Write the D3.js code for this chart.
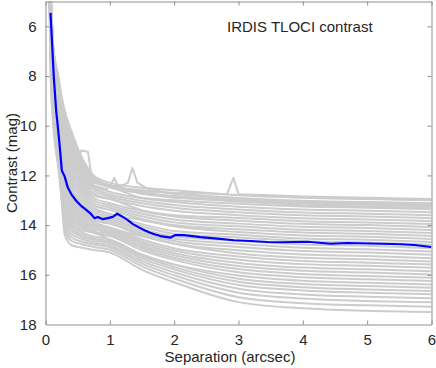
<!DOCTYPE html>
<html>
<head>
<meta charset="utf-8">
<script src="https://cdn.jsdelivr.net/npm/d3@7"></script>
<style>
  html, body { margin: 0; padding: 0; background: #fff; }
  text { font-family: "Liberation Sans", Arial, Helvetica, sans-serif; fill: #262626; }
</style>
</head>
<body>
<svg id="chart" width="436" height="368"></svg>
<script>
// ---------- data ----------
const xTicks = [0, 1, 2, 3, 4, 5, 6];
const yTicks = [6, 8, 10, 12, 14, 16, 18];
const titleText = "IRDIS TLOCI contrast";
const xLabel = "Separation (arcsec)";
const yLabel = "Contrast (mag)";

// separations (arcsec) at which the individual grey curves are sampled
const sepAnchors = [0.06, 0.08, 0.12, 0.16, 0.2, 0.25, 0.3, 0.4, 0.55, 0.75, 1.0, 1.5, 2, 3, 4, 5, 6];

// individual contrast curves (mag)
const grayCurves = [
  [4.0,4.6,6.8,7.5,8.0,8.8,9.4,10.2,11.2,12.0,12.3,12.5,12.6,12.8,12.9,12.95,13.0],
  [4.01,4.65,6.86,7.61,8.15,8.98,9.57,10.36,11.33,12.1,12.39,12.6,12.72,12.91,13.02,13.07,13.12],
  [4.03,4.7,6.92,7.72,8.3,9.15,9.74,10.53,11.46,12.2,12.48,12.71,12.83,13.03,13.13,13.18,13.24],
  [4.04,4.76,6.98,7.83,8.45,9.33,9.91,10.69,11.59,12.25,12.45,12.9,13.0,13.14,13.25,13.3,13.36],
  [4.05,4.81,7.03,7.94,8.6,9.5,10.08,10.85,11.72,12.4,12.66,12.92,13.07,13.26,13.37,13.42,13.48],
  [4.07,4.86,7.09,8.05,8.75,9.68,10.25,11.01,11.85,12.5,12.76,13.02,13.19,13.37,13.49,13.54,13.6],
  [4.08,4.91,7.15,8.16,8.9,9.85,10.41,11.18,11.98,12.6,12.85,13.12,13.3,13.48,13.6,13.65,13.72],
  [4.09,4.96,7.21,8.27,9.05,10.03,10.58,11.34,12.11,12.71,12.94,13.23,13.42,13.6,13.72,13.77,13.84],
  [4.1,5.02,7.27,8.38,9.2,10.2,10.75,11.5,12.24,12.81,12.95,13.4,13.6,13.71,13.84,13.89,13.96],
  [4.12,5.07,7.33,8.49,9.35,10.38,10.92,11.66,12.37,12.91,13.12,13.44,13.65,13.82,13.95,14.0,14.08],
  [4.13,5.12,7.39,8.6,9.5,10.56,11.09,11.83,12.5,13.01,13.21,13.54,13.77,13.94,14.07,14.12,14.2],
  [4.14,5.17,7.44,8.72,9.64,10.73,11.26,11.99,12.63,13.11,13.3,13.64,13.89,14.05,14.19,14.24,14.32],
  [4.16,5.22,7.5,8.83,9.79,10.91,11.43,12.15,12.76,13.21,13.39,13.75,14.0,14.17,14.3,14.35,14.44],
  [4.17,5.28,7.56,8.94,9.94,11.08,11.6,12.31,12.89,13.31,13.55,13.8,14.05,14.28,14.42,14.47,14.56],
  [4.18,5.33,7.62,9.05,10.09,11.26,11.77,12.48,13.02,13.41,13.57,13.96,14.24,14.39,14.54,14.59,14.68],
  [4.19,5.38,7.67,9.15,10.23,11.42,11.92,12.63,13.14,13.5,13.66,14.05,14.35,14.5,14.65,14.7,14.79],
  [4.21,5.48,7.77,9.25,10.34,11.55,12.07,12.76,13.25,13.59,13.74,14.16,14.45,14.63,14.78,14.83,14.93],
  [4.22,5.61,7.88,9.34,10.41,11.62,12.19,12.87,13.34,13.67,13.81,14.24,14.55,14.75,14.91,14.97,15.06],
  [4.24,5.74,8.0,9.43,10.48,11.7,12.31,12.97,13.42,13.74,13.88,14.33,14.64,14.88,15.04,15.1,15.19],
  [4.25,5.87,8.11,9.52,10.55,11.77,12.43,13.08,13.51,13.81,13.95,14.41,14.74,15.01,15.18,15.24,15.33],
  [4.27,6.0,8.23,9.61,10.62,11.85,12.55,13.18,13.59,13.88,14.1,14.45,14.75,15.14,15.31,15.37,15.46],
  [4.28,6.13,8.34,9.7,10.69,11.92,12.67,13.29,13.68,13.96,14.09,14.58,14.93,15.26,15.44,15.51,15.59],
  [4.3,6.26,8.46,9.79,10.76,12.0,12.79,13.39,13.76,14.03,14.16,14.67,15.02,15.39,15.57,15.64,15.72],
  [4.31,6.39,8.57,9.88,10.83,12.07,12.91,13.5,13.85,14.1,14.23,14.75,15.12,15.52,15.71,15.78,15.86],
  [4.33,6.52,8.69,9.97,10.9,12.15,13.03,13.6,13.93,14.17,14.3,14.84,15.21,15.65,15.84,15.91,15.99],
  [4.34,6.65,8.8,10.06,10.97,12.22,13.15,13.71,14.02,14.25,14.37,14.92,15.31,15.77,15.97,16.05,16.12],
  [4.36,6.78,8.92,10.15,11.04,12.3,13.27,13.81,14.1,14.32,14.44,15.01,15.4,15.9,16.1,16.18,16.25],
  [4.37,6.91,9.03,10.24,11.11,12.37,13.39,13.92,14.19,14.3,14.6,15.22,15.58,16.03,16.24,16.32,16.39],
  [4.39,7.04,9.15,10.33,11.18,12.45,13.51,14.02,14.27,14.46,14.58,15.18,15.59,16.16,16.37,16.45,16.52],
  [4.4,7.17,9.26,10.42,11.25,12.52,13.63,14.13,14.36,14.54,14.65,15.26,15.69,16.28,16.5,16.59,16.65],
  [4.42,7.3,9.38,10.51,11.32,12.6,13.75,14.23,14.44,14.61,14.72,15.35,15.78,16.41,16.63,16.72,16.78],
  [4.44,7.45,9.52,10.62,11.41,12.69,13.9,14.36,14.54,14.7,14.81,15.45,15.9,16.56,16.79,16.88,16.94],
  [4.46,7.61,9.66,10.73,11.49,12.78,14.04,14.49,14.65,14.78,14.89,15.55,16.02,16.72,16.95,17.05,17.1],
  [4.48,7.79,9.82,10.86,11.59,12.88,14.21,14.63,14.76,14.88,14.99,15.66,16.15,16.9,17.14,17.23,17.29],
  [4.5,8.0,10.0,11.0,11.7,13.0,14.4,14.8,14.9,15.0,15.1,15.8,16.3,17.1,17.35,17.45,17.5]
];

// curves with local bumps (own sampling)
const bumpA_sep = [0.06,0.08,0.12,0.16,0.2,0.25,0.3,0.4,0.48,0.5,0.555,0.66,0.71,0.8,1.0,1.5,2,3,4,5,6];
const bumpA_mag = [4.0,4.7,6.9,7.7,8.3,9.2,9.9,10.8,11.4,11.5,11.0,11.05,11.95,12.25,12.45,12.7,12.85,13.0,13.1,13.15,13.2];
const bumpB_sep = [0.06,0.08,0.12,0.16,0.2,0.25,0.3,0.4,0.55,0.75,1.0,1.2,1.28,1.35,1.43,1.6,2,3,4,5,6];
const bumpB_mag = [4.05,4.8,7.0,7.9,8.55,9.45,10.0,10.8,11.7,12.3,12.45,12.4,12.3,11.7,12.3,12.55,12.75,12.95,13.05,13.1,13.15];
const bumpC_sep = [0.06,0.08,0.12,0.16,0.2,0.25,0.3,0.4,0.55,0.75,0.95,1.02,1.07,1.12,1.3,1.5,2,3,4,5,6];
const bumpC_mag = [4.1,4.9,7.1,8.1,8.8,9.7,10.3,11.1,11.9,12.4,12.55,12.35,12.1,12.4,12.6,12.75,12.9,13.05,13.2,13.25,13.3];
const bumpD_sep = [0.06,0.08,0.12,0.16,0.2,0.25,0.3,0.4,0.55,0.75,1.0,1.5,2,2.5,2.82,2.92,3.0,3.5,4,5,6];
const bumpD_mag = [4.05,4.75,6.95,7.8,8.4,9.3,9.85,10.65,11.55,12.2,12.45,12.65,12.7,12.73,12.76,12.1,12.76,12.8,12.85,12.9,12.95];

// median curve (blue)
const medianSep = [0.078,0.129,0.166,0.19,0.218,0.254,0.295,0.347,0.40,0.477,0.555,0.633,0.71,0.762,0.813,0.89,0.969,1.047,1.115,1.177,1.28,1.358,1.46,1.54,1.617,1.695,1.788,1.944,2.02,2.15,2.41,2.67,2.93,3.19,3.45,3.65,4.07,4.43,4.69,5.21,5.52,5.73,6.0];
const medianMag = [5.46,8.05,9.40,10.0,10.74,11.81,12.02,12.49,12.75,13.02,13.23,13.39,13.56,13.72,13.67,13.76,13.72,13.67,13.54,13.63,13.80,13.96,14.10,14.21,14.30,14.37,14.44,14.50,14.40,14.40,14.48,14.54,14.61,14.64,14.68,14.69,14.67,14.75,14.72,14.75,14.77,14.80,14.88];

// ---------- drawing ----------
const svg = d3.select("#chart");
const L = 45.5, R = 431.5, T = 1.5, B = 324.5;
const x = d3.scaleLinear().domain([0, 6]).range([L, R]);
const y = d3.scaleLinear().domain([5, 18]).range([T, B]);

svg.append("rect").attr("width", 436).attr("height", 368).attr("fill", "#fff");

svg.append("clipPath").attr("id", "clip")
  .append("rect").attr("x", L).attr("y", T).attr("width", R - L).attr("height", B - T);

const plot = svg.append("g").attr("clip-path", "url(#clip)");

const smooth = d3.line().x(d => x(d[0])).y(d => y(d[1])).curve(d3.curveMonotoneX);
const straight = d3.line().x(d => x(d[0])).y(d => y(d[1]));

const grayColor = "#cccccc";
grayCurves.forEach(c => {
  plot.append("path")
    .attr("d", smooth(sepAnchors.map((s, i) => [s, c[i]])))
    .attr("fill", "none").attr("stroke", grayColor).attr("stroke-width", 2)
    .attr("stroke-linejoin", "round");
});
[[bumpA_sep, bumpA_mag], [bumpB_sep, bumpB_mag], [bumpC_sep, bumpC_mag], [bumpD_sep, bumpD_mag]].forEach(([s, m]) => {
  plot.append("path")
    .attr("d", straight(s.map((v, i) => [v, m[i]])))
    .attr("fill", "none").attr("stroke", grayColor).attr("stroke-width", 2)
    .attr("stroke-linejoin", "round");
});

plot.append("path")
  .attr("d", straight(medianSep.map((s, i) => [s, medianMag[i]])))
  .attr("fill", "none").attr("stroke", "#0000ff").attr("stroke-width", 2.2)
  .attr("stroke-linejoin", "round");

// axes (box with inward ticks)
const axisColor = "#8f8f8f";
const tickLen = 4;
const fmt = d3.format("d");
const gBottom = svg.append("g").attr("transform", `translate(0,${B})`)
  .call(d3.axisBottom(x).tickValues(xTicks).tickFormat(fmt).tickSizeInner(-tickLen).tickSizeOuter(0).tickPadding(10));
const gTop = svg.append("g").attr("transform", `translate(0,${T})`)
  .call(d3.axisTop(x).tickValues(xTicks).tickSizeInner(-tickLen).tickSizeOuter(0).tickFormat(""));
const gLeft = svg.append("g").attr("transform", `translate(${L},0)`)
  .call(d3.axisLeft(y).tickValues(yTicks).tickFormat(fmt).tickSizeInner(-tickLen).tickSizeOuter(0).tickPadding(9));
const gRight = svg.append("g").attr("transform", `translate(${R},0)`)
  .call(d3.axisRight(y).tickValues(yTicks).tickSizeInner(-tickLen).tickSizeOuter(0).tickFormat(""));

[gBottom, gTop, gLeft, gRight].forEach(g => {
  g.select(".domain").attr("stroke", axisColor).attr("stroke-width", 1);
  g.selectAll(".tick line").attr("stroke", axisColor);
  g.selectAll(".tick text").attr("font-size", 15).attr("fill", "#262626")
    .attr("font-family", "'Liberation Sans', Arial, sans-serif");
});
gLeft.selectAll(".tick").filter(d => d === 18).select("line").remove();
gRight.selectAll(".tick").filter(d => d === 18).select("line").remove();

// labels
svg.append("text").attr("x", 227).attr("y", 32).attr("font-size", 15).text(titleText);
svg.append("text").attr("x", 230).attr("y", 362).attr("text-anchor", "middle").attr("font-size", 15).text(xLabel);
svg.append("text").attr("transform", `translate(17,163) rotate(-90)`).attr("text-anchor", "middle")
  .attr("font-size", 15).text(yLabel);
</script>
</body>
</html>
